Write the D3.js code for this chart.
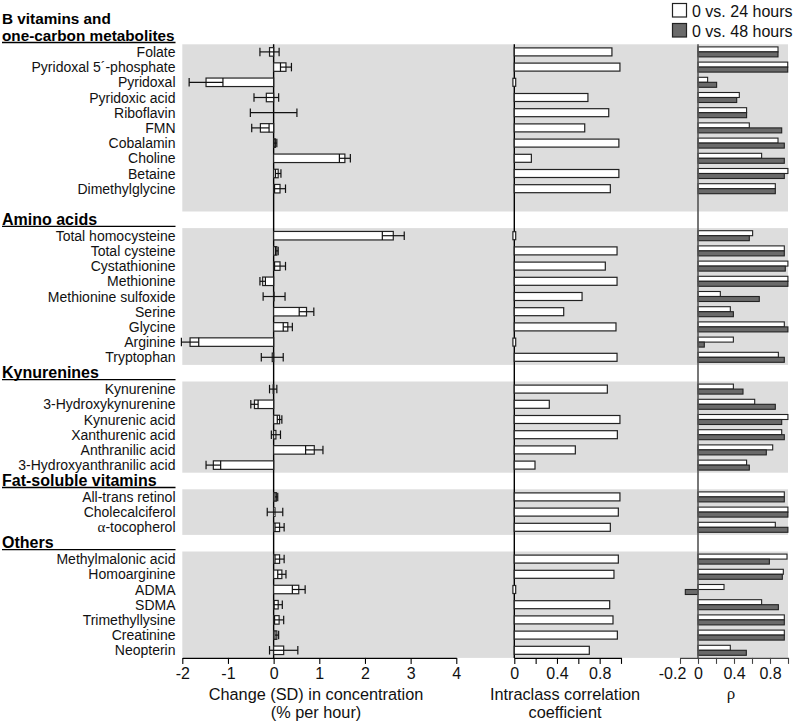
<!DOCTYPE html>
<html><head><meta charset="utf-8">
<script src="https://cdn.jsdelivr.net/npm/d3@7/dist/d3.min.js"></script>
<style>
html,body{margin:0;padding:0;background:#fff;}
svg{display:block;font-family:"Liberation Sans",Arial,sans-serif;}
</style></head>
<body>
<svg id="c" width="797" height="722"></svg>
<script>
// ---------------- data ----------------
const groupHeaders = [["B vitamins and", "one-carbon metabolites"], ["Amino acids"], ["Kynurenines"], ["Fat-soluble vitamins"], ["Others"]];
const metabolites = [
  "Folate","Pyridoxal 5\u00B4-phosphate","Pyridoxal","Pyridoxic acid","Riboflavin","FMN","Cobalamin","Choline","Betaine","Dimethylglycine",
  "Total homocysteine","Total cysteine","Cystathionine","Methionine","Methionine sulfoxide","Serine","Glycine","Arginine","Tryptophan",
  "Kynurenine","3-Hydroxykynurenine","Kynurenic acid","Xanthurenic acid","Anthranilic acid","3-Hydroxyanthranilic acid",
  "All-trans retinol","Cholecalciferol","\u03B1-tocopherol",
  "Methylmalonic acid","Homoarginine","ADMA","SDMA","Trimethyllysine","Creatinine","Neopterin"
];
const groupOf = [0,0,0,0,0,0,0,0,0,0, 1,1,1,1,1,1,1,1,1, 2,2,2,2,2,2, 3,3,3, 4,4,4,4,4,4,4];
// Change (SD) in concentration, % per hour: mean and half-width of error bar
const changeMean = [-0.09,0.27,-1.48,-0.16,0.0,-0.29,0.04,1.56,0.10,0.14,
  2.62,0.07,0.14,-0.24,0.01,0.72,0.31,-1.83,-0.03,
  -0.01,-0.42,0.13,0.05,0.89,-1.32,
  0.06,0.03,0.13,
  0.13,0.18,0.55,0.10,0.12,0.07,0.22];
const changeErr = [0.21,0.12,0.37,0.27,0.51,0.19,0.03,0.12,0.06,0.12,
  0.24,0.03,0.12,0.06,0.24,0.16,0.10,0.19,0.24,
  0.08,0.08,0.05,0.10,0.19,0.16,
  0.03,0.17,0.10,
  0.10,0.09,0.14,0.09,0.10,0.04,0.31];
// Intraclass correlation coefficient
const icc = [0.915,0.99,0,0.69,0.885,0.66,0.98,0.16,0.98,0.90,
  0,0.963,0.853,0.963,0.635,0.463,0.953,0,0.963,
  0.872,0.328,0.99,0.966,0.572,0.194,
  0.99,0.975,0.90,
  0.975,0.934,0,0.894,0.925,0.966,0.703];
// Spearman rho, 0 vs. 24 hours and 0 vs. 48 hours
const rho24 = [0.889,0.997,0.107,0.459,0.54,0.57,0.889,0.707,0.999,0.859,
  0.607,0.959,0.999,0.999,0.248,0.359,0.959,0.393,0.893,
  0.393,0.63,0.999,0.93,0.83,0.54,
  0.959,0.999,0.859,
  0.989,0.948,0.289,0.707,0.959,0.959,0.359];
const rho48 = [0.889,0.997,0.207,0.43,0.54,0.93,0.959,0.959,0.959,0.859,
  0.57,0.959,0.97,0.999,0.681,0.393,0.999,0.07,0.959,
  0.5,0.859,0.93,0.959,0.759,0.57,
  0.959,0.999,0.999,
  0.793,0.937,-0.141,0.893,0.959,0.959,0.537];
const seriesNames = ["0 vs. 24 hours", "0 vs. 48 hours"];
const changeTicks = [-2,-1,0,1,2,3,4];
const iccTicks = [0,0.2,0.4,0.6,0.8,1];
const iccTickLabels = [0,0.4,0.8];
const rhoTicks = [-0.2,0,0.2,0.4,0.6,0.8,1];
const rhoTickLabels = [-0.2,0,0.4,0.8];
const axisTitles = [["Change (SD) in concentration", "(% per hour)"], ["Intraclass correlation", "coefficient"], ["\u03C1"]];

// ---------------- layout ----------------
const extraSlots = [1,0,0,0,0];
const slot = 15.2, gap = 16.6, top0 = 44.3;
const nG = groupHeaders.length;
const bandTop = [], bandBot = [];
{
  let t = top0;
  for (let g = 0; g < nG; g++) {
    const n = groupOf.filter(v => v === g).length + extraSlots[g];
    bandTop.push(t); bandBot.push(t + n * slot);
    t = t + n * slot + gap;
  }
}
const rowY = metabolites.map((m, i) => {
  const g = groupOf[i];
  const k = groupOf.slice(0, i).filter(v => v === g).length;
  return bandTop[g] + (k + 0.5) * slot;
});
const axisY = bandBot[nG - 1];

const x1 = d3.scaleLinear().domain([-2, 4]).range([182.3, 456.3]);
const x2 = d3.scaleLinear().domain([0, 1]).range([514.3, 621]);
const x3 = d3.scaleLinear().domain([-0.2, 1]).range([680, 788]);

const svg = d3.select("#c");
const bgColor = "#dddddd", stroke = "#222", dark = "#6a6a6a";

// gray bands
svg.append("g").selectAll("rect").data(d3.range(nG)).join("rect")
  .attr("x", x1(-2)).attr("width", x3(1) - x1(-2))
  .attr("y", g => bandTop[g]).attr("height", g => bandBot[g] - bandTop[g])
  .attr("fill", bgColor);

// group headers
const hdr = svg.append("g");
const hdrLead = 17.3;
groupHeaders.forEach((lines, g) => {
  const base = bandTop[g] - 3.5;
  lines.forEach((s, j) => {
    hdr.append("text").attr("x", 2).attr("y", base - (lines.length - 1 - j) * hdrLead)
      .attr("font-weight", "bold").attr("font-size", lines.length > 1 ? 15.3 : 16)
      .attr("fill", "#000").text(s);
  });
  hdr.append("line").attr("x1", 2).attr("x2", 175.5)
    .attr("y1", bandTop[g] - 1.8).attr("y2", bandTop[g] - 1.8)
    .attr("stroke", "#000").attr("stroke-width", 1.3);
});

// category labels
const lab = svg.append("g").attr("font-size", 14).attr("fill", "#111").attr("text-anchor", "end");
metabolites.forEach((m, i) => {
  const t = lab.append("text").attr("x", 175.5).attr("y", rowY[i]).attr("dy", "0.36em");
  if (m.startsWith("\u03B1")) {
    t.append("tspan").attr("font-family", "Liberation Serif, serif").attr("font-size", 15).text("\u03B1");
    t.append("tspan").text(m.slice(1));
  } else t.text(m);
});

// zero lines
const zl = svg.append("g");
zl.append("line").attr("x1", x1(0)).attr("x2", x1(0)).attr("y1", top0).attr("y2", axisY).attr("stroke", "#000").attr("stroke-width", 1.4);
zl.append("line").attr("x1", x2(0)).attr("x2", x2(0)).attr("y1", top0).attr("y2", axisY).attr("stroke", "#000").attr("stroke-width", 1.4);

// panel 1 bars
const bh = 8.5;
const p1 = svg.append("g");
p1.selectAll("rect").data(changeMean).join("rect")
  .attr("x", d => Math.min(x1(0), x1(d))).attr("width", d => Math.abs(x1(d) - x1(0)))
  .attr("y", (d, i) => rowY[i] - bh / 2).attr("height", bh)
  .attr("fill", "#fff").attr("stroke", stroke).attr("stroke-width", 1.2);
const eb = p1.append("g").attr("stroke", "#111").attr("stroke-width", 1.2);
changeMean.forEach((d, i) => {
  const lo = x1(d - changeErr[i]), hi = x1(d + changeErr[i]), y = rowY[i];
  eb.append("line").attr("x1", lo).attr("x2", hi).attr("y1", y).attr("y2", y);
  eb.append("line").attr("x1", lo).attr("x2", lo).attr("y1", y - bh / 2).attr("y2", y + bh / 2);
  eb.append("line").attr("x1", hi).attr("x2", hi).attr("y1", y - bh / 2).attr("y2", y + bh / 2);
});

// panel 2 bars (ICC)
const bh2 = 8;
svg.append("g").selectAll("rect").data(icc).join("rect")
  .attr("x", d => d === 0 ? x2(0) - 1.4 : x2(0)).attr("width", d => d === 0 ? 2.8 : x2(d) - x2(0))
  .attr("y", (d, i) => rowY[i] - bh2 / 2).attr("height", bh2)
  .attr("fill", "#fff").attr("stroke", stroke).attr("stroke-width", 1.2);

// panel 3 bars (rho)
const rh = 5;
const p3 = svg.append("g");
p3.selectAll("rect.r24").data(rho24).join("rect").attr("class", "r24")
  .attr("x", d => Math.min(x3(0), x3(d))).attr("width", d => Math.abs(x3(d) - x3(0)))
  .attr("y", (d, i) => rowY[i] - rh).attr("height", rh)
  .attr("fill", "#fff").attr("stroke", stroke).attr("stroke-width", 1.1);
p3.selectAll("rect.r48").data(rho48).join("rect").attr("class", "r48")
  .attr("x", d => Math.min(x3(0), x3(d))).attr("width", d => Math.abs(x3(d) - x3(0)))
  .attr("y", (d, i) => rowY[i]).attr("height", rh)
  .attr("fill", dark).attr("stroke", stroke).attr("stroke-width", 1.1);
p3.append("line").attr("x1", x3(0)).attr("x2", x3(0)).attr("y1", top0).attr("y2", axisY).attr("stroke", "#555").attr("stroke-width", 1.6);

// axes
function styleAxis(g, color) {
  g.selectAll(".domain").attr("stroke", color).attr("stroke-width", 1.3);
  g.selectAll(".tick line").attr("stroke", color).attr("stroke-width", 1.1);
  g.selectAll(".tick text").attr("font-family", "Liberation Sans, Arial, sans-serif").attr("font-size", 16).attr("fill", "#111").attr("dy", "0.9em").attr("y", 7);
}
const fmt = d => String(Math.round(d * 10) / 10);
const a1 = svg.append("g").attr("transform", `translate(0,${axisY})`)
  .call(d3.axisBottom(x1).tickValues(changeTicks).tickSize(6).tickSizeOuter(0).tickFormat(fmt));
styleAxis(a1, "#000");
const a2 = svg.append("g").attr("transform", `translate(0,${axisY})`)
  .call(d3.axisBottom(x2).tickValues(iccTicks).tickSize(6).tickSizeOuter(0)
    .tickFormat(d => iccTickLabels.some(v => Math.abs(v - d) < 1e-9) ? fmt(d) : ""));
styleAxis(a2, "#000");
const a3 = svg.append("g").attr("transform", `translate(0,${axisY})`)
  .call(d3.axisBottom(x3).tickValues(rhoTicks).tickSize(6).tickSizeOuter(0)
    .tickFormat(d => rhoTickLabels.some(v => Math.abs(v - d) < 1e-9) ? fmt(d) : ""));
styleAxis(a3, "#444");
a3.selectAll(".tick text").filter(d => d < 0).attr("x", -8);

// axis titles
const titleX = [316, 565, 731];
const titleLead = 18.4;
const ttl = svg.append("g").attr("font-size", 16.3).attr("fill", "#111").attr("text-anchor", "middle");
axisTitles.forEach((lines, k) => {
  lines.forEach((s, j) => {
    const t = ttl.append("text").attr("x", titleX[k]).attr("y", axisY + (lines.length > 1 ? 41.8 + j * titleLead : 41)).text(s);
    if (lines.length === 1) t.attr("font-family", "Liberation Serif, serif").attr("font-size", 17);
  });
});

// legend
const lg = svg.append("g");
seriesNames.forEach((s, i) => {
  lg.append("rect").attr("x", 672.5).attr("y", 3.5 + i * 20).attr("width", 14).attr("height", 13.5)
    .attr("fill", i === 0 ? "#fff" : dark).attr("stroke", stroke).attr("stroke-width", 1.2);
  lg.append("text").attr("x", 692).attr("y", 16.5 + i * 20.3).attr("font-size", 16).attr("fill", "#111").text(s);
});
</script>
</body></html>
